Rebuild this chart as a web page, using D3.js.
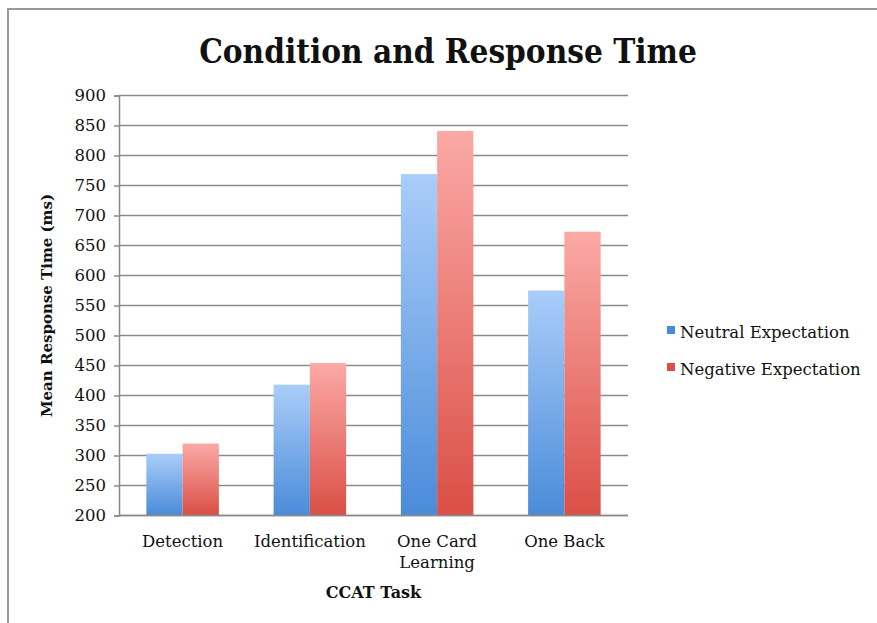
<!DOCTYPE html>
<html>
<head>
<meta charset="utf-8">
<script src="https://cdn.jsdelivr.net/npm/d3@7/dist/d3.min.js"></script>
<style>
  body { margin: 0; background: #fff; }
  text { font-family: "DejaVu Serif", "Liberation Serif", serif; fill: #111; }
</style>
</head>
<body>
<svg id="chart" width="877" height="623"></svg>
<script>
// chart data
const categories = [['Detection'], ['Identification'], ['One Card', 'Learning'], ['One Back']];
const seriesNames = ['Neutral Expectation', 'Negative Expectation'];
const neutralValues = [303, 418, 769, 575];
const negativeValues = [320, 454, 841, 673];
const yTicks = [200, 250, 300, 350, 400, 450, 500, 550, 600, 650, 700, 750, 800, 850, 900];

const svg = d3.select('#chart');
const margin = {left: 119, right: 249, top: 95.5, bottom: 107.5};
const width = 877 - margin.left - margin.right;
const height = 623 - margin.top - margin.bottom;

// outer frame (only top and left edges visible)
svg.append('path')
  .attr('d', 'M8,623 L8,9 L877,9')
  .attr('fill', 'none')
  .attr('stroke', '#999')
  .attr('stroke-width', 2);

const defs = svg.append('defs');
const gradColors = [['#aacdf9', '#4a8bd9'], ['#fba9a5', '#da4f46']];
gradColors.forEach((c, i) => {
  const g = defs.append('linearGradient')
    .attr('id', 'grad' + i)
    .attr('x1', 0).attr('y1', 0).attr('x2', 0).attr('y2', 1);
  g.append('stop').attr('offset', '0%').attr('stop-color', c[0]);
  g.append('stop').attr('offset', '100%').attr('stop-color', c[1]);
});

const chart = svg.append('g').attr('transform', `translate(${margin.left},${margin.top})`);

const x0 = d3.scaleBand()
  .domain(d3.range(categories.length))
  .range([0, width])
  .paddingInner(0.43)
  .paddingOuter(0.215);

const x1 = d3.scaleBand()
  .domain([0, 1])
  .range([0, x0.bandwidth()]);

const y = d3.scaleLinear()
  .domain([200, 900])
  .range([height, 0]);

// gridlines
chart.append('g')
  .selectAll('line')
  .data(yTicks)
  .enter()
  .append('line')
  .attr('x1', 0)
  .attr('x2', width)
  .attr('y1', (d) => y(d))
  .attr('y2', (d) => y(d))
  .attr('stroke', '#8a8a8a')
  .attr('stroke-width', 1.5);

// y axis
const yAxis = chart.append('g')
  .call(d3.axisLeft(y).tickValues(yTicks).tickSize(5).tickPadding(8));
yAxis.select('.domain').attr('stroke', '#8a8a8a').attr('stroke-width', 1.5);
yAxis.selectAll('.tick line').attr('stroke', '#8a8a8a').attr('stroke-width', 1.5);
yAxis.selectAll('.tick text')
  .attr('font-family', '"DejaVu Serif", serif')
  .attr('font-size', 16.5)
  .attr('fill', '#111');

// bars
const groups = chart.selectAll('.cat')
  .data(categories.map((c, i) => [neutralValues[i], negativeValues[i]]))
  .enter()
  .append('g')
  .attr('class', 'cat')
  .attr('transform', (d, i) => `translate(${x0(i)},0)`);

groups.selectAll('rect')
  .data((d) => d)
  .enter()
  .append('rect')
  .attr('x', (d, j) => x1(j))
  .attr('y', (d) => y(d))
  .attr('width', x1.bandwidth())
  .attr('height', (d) => height - y(d))
  .attr('fill', (d, j) => `url(#grad${j})`);

// baseline
chart.append('line')
  .attr('x1', 0).attr('x2', width)
  .attr('y1', height).attr('y2', height)
  .attr('stroke', '#8a8a8a')
  .attr('stroke-width', 1.5);

// category labels
const catLabels = chart.selectAll('.catlabel')
  .data(categories)
  .enter()
  .append('text')
  .attr('class', 'catlabel')
  .attr('text-anchor', 'middle')
  .attr('font-size', 16.5)
  .attr('transform', (d, i) => `translate(${x0(i) + x0.bandwidth() / 2},${height + 31.5})`);

catLabels.selectAll('tspan')
  .data((d) => d)
  .enter()
  .append('tspan')
  .attr('x', 0)
  .attr('dy', (d, j) => j === 0 ? 0 : 21)
  .text((d) => d);

// axis titles
chart.append('text')
  .attr('x', width / 2)
  .attr('y', height + 82.5)
  .attr('text-anchor', 'middle')
  .attr('font-size', 16)
  .attr('font-weight', 'bold')
  .text('CCAT Task');

chart.append('text')
  .attr('transform', `translate(${52 - margin.left},${height / 2}) rotate(-90)`)
  .attr('text-anchor', 'middle')
  .attr('font-size', 15)
  .attr('font-weight', 'bold')
  .text('Mean Response Time (ms)');

// title
svg.append('text')
  .attr('x', 448)
  .attr('y', 63)
  .attr('text-anchor', 'middle')
  .attr('font-size', 33)
  .attr('font-weight', 'bold')
  .style('font-stretch', 'condensed')
  .text('Condition and Response Time');

// legend
const legend = svg.append('g').attr('transform', 'translate(667,333)');
seriesNames.forEach((name, i) => {
  const row = legend.append('g').attr('transform', `translate(0,${i * 37})`);
  row.append('rect')
    .attr('x', 0).attr('y', -7)
    .attr('width', 8).attr('height', 8)
    .attr('fill', gradColors[i][1]);
  row.append('text')
    .attr('x', 13)
    .attr('y', 0)
    .attr('dy', '0.32em')
    .attr('font-size', 16.5)
    .text(name);
});
</script>
</body>
</html>
